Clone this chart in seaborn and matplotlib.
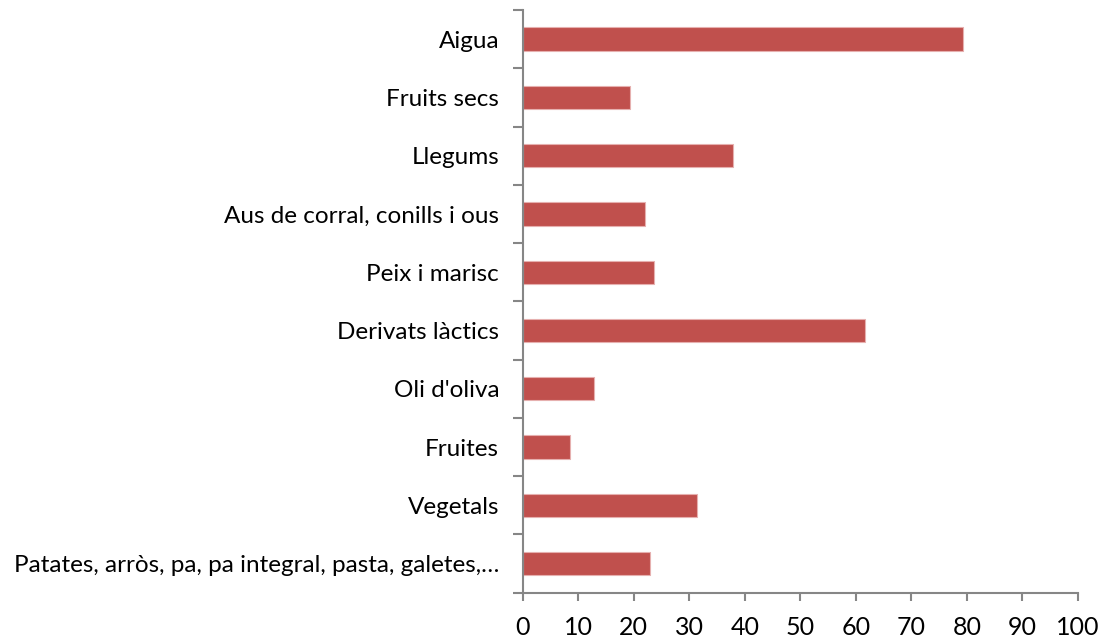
import matplotlib
matplotlib.use("Agg")
import matplotlib.pyplot as plt
import seaborn as sns
import pandas as pd
import numpy as np
from matplotlib.ticker import FixedLocator

categories = ["Aigua", "Fruits secs", "Llegums", "Aus de corral, conills i ous",
              "Peix i marisc", "Derivats làctics", "Oli d'oliva", "Fruites",
              "Vegetals", "Patates, arròs, pa, pa integral, pasta, galetes,…"]
values = [79.3, 19.3, 37.9, 22.1, 23.6, 61.6, 12.9, 8.6, 31.3, 22.9]
x_ticks = list(range(0, 101, 10))

sns.set_theme(style="white")
plt.rcParams['font.family'] = ['Lato', 'DejaVu Sans']

df = pd.DataFrame({"cat": categories, "val": values})
fig = plt.figure(figsize=(11.04, 6.41), dpi=100)
ax = fig.add_axes([0.4735, 0.0753, 0.9764 - 0.4735, 0.9844 - 0.0753])
sns.barplot(data=df, y="cat", x="val", orient="h", color="#C0504D", saturation=1,
            width=0.4, edgecolor="#E6B0AF", linewidth=0.8, ax=ax)

gray = "#868686"
ax.set_xlim(0, 100)
ax.set_ylim(len(categories) - 0.5, -0.5)
ax.set_xticks(x_ticks)
ax.set_xticklabels([str(t) for t in x_ticks], fontsize=18, color="black")
ax.set_yticks(range(len(categories)))
ax.set_yticklabels(categories, fontsize=17.5, color="black")
ax.yaxis.set_minor_locator(FixedLocator(np.arange(-0.5, len(categories), 1.0)))
ax.tick_params(axis="y", which="major", length=0, pad=17)
ax.tick_params(axis="y", which="minor", length=7, width=1.5, color=gray, direction="out", left=True)
ax.tick_params(axis="x", which="major", length=6, width=1.5, color=gray, direction="out", bottom=True, pad=11)
ax.set_xlabel("")
ax.set_ylabel("")
for s in ["top", "right"]:
    ax.spines[s].set_visible(False)
for s in ["left", "bottom"]:
    ax.spines[s].set_color(gray)
    ax.spines[s].set_linewidth(1.5)

fig.savefig("out.png", dpi=100)
